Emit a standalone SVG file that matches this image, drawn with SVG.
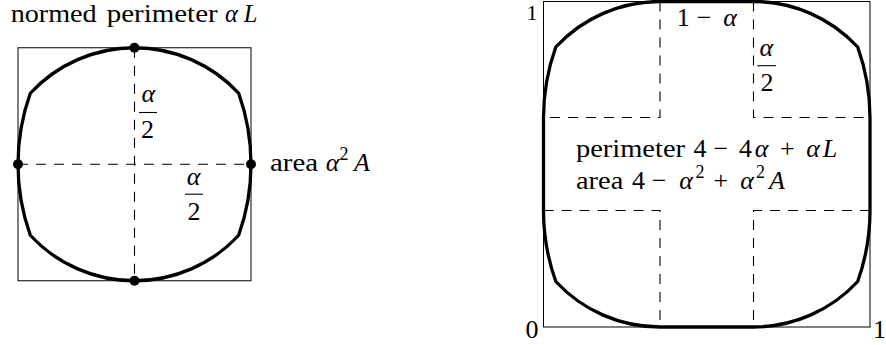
<svg xmlns="http://www.w3.org/2000/svg" width="886" height="345" viewBox="0 0 886 345">
<style>
.frame{fill:none;stroke:#000;stroke-width:1}
.curve{fill:none;stroke:#000;stroke-width:3.3;stroke-linejoin:miter}
.dash{fill:none;stroke:#000;stroke-width:1.1;stroke-dasharray:10 8}
.bar{stroke:#000;stroke-width:1.1}
.dot{fill:#000}
text{font-family:"Liberation Serif","Times New Roman",serif;font-size:26px;fill:#000}
.m{font-style:italic}
.c{text-anchor:middle}
.sup{font-size:18px}
.top{font-size:24.5px}
</style>
<rect width="886" height="345" fill="#fff"/>

<g id="left-figure">
  <rect id="left-square" class="frame" x="18" y="47.75" width="233" height="233"/>
  <g id="left-axes">
    <path class="dash" d="M134.5 47.75 V280.75"/>
    <path class="dash" d="M18 164.25 H251"/>
  </g>
  <path id="left-curve" class="curve" d="M134.5 47.75 A142 142 0 0 0 30.3 93.25 A211 211 0 0 0 18 164.25 A211 211 0 0 0 30.3 235.25 A142 142 0 0 0 134.5 280.75 A142 142 0 0 0 238.7 235.25 A211 211 0 0 0 251 164.25 A211 211 0 0 0 238.7 93.25 A142 142 0 0 0 134.5 47.75 Z"/>
  <g id="left-dots">
    <circle class="dot" cx="134.5" cy="47.75" r="5"/>
    <circle class="dot" cx="18" cy="164.25" r="5"/>
    <circle class="dot" cx="251" cy="164.25" r="5"/>
    <circle class="dot" cx="134.5" cy="280.75" r="5"/>
  </g>
  <g id="label-perimeter-left">
    <text class="top" x="10.7" y="22" textLength="86" lengthAdjust="spacingAndGlyphs">normed</text>
    <text class="top" x="106.7" y="22" textLength="111" lengthAdjust="spacingAndGlyphs">perimeter</text>
    <text class="top m c" x="231.5" y="22">α</text>
    <text class="top m c" x="250.5" y="22">L</text>
  </g>
  <g id="label-area-left">
    <text x="270" y="171" textLength="48" lengthAdjust="spacingAndGlyphs">area</text>
    <text class="m c" x="332.5" y="171">α</text>
    <text class="sup c" x="344" y="160">2</text>
    <text class="m c" x="362" y="171">A</text>
  </g>
  <g id="frac-left-1">
    <text class="m c" x="148.3" y="102">α</text>
    <line class="bar" x1="139" y1="112.5" x2="157" y2="112.5"/>
    <text class="c" x="147.5" y="138">2</text>
  </g>
  <g id="frac-left-2">
    <text class="m c" x="193.5" y="185">α</text>
    <line class="bar" x1="185" y1="194.2" x2="203" y2="194.2"/>
    <text class="c" x="194" y="219.5">2</text>
  </g>
</g>

<g id="right-figure">
  <rect id="right-square" class="frame" x="543.5" y="1.5" width="326.5" height="325.5"/>
  <g id="right-dashes">
    <path class="dash" d="M660 1.5 V117.5 H543.5"/>
    <path class="dash" d="M753.5 1.5 V117.5 H870"/>
    <path class="dash" d="M543.5 210.5 H660 V327"/>
    <path class="dash" d="M870 210.5 H753.5 V327"/>
  </g>
  <path id="right-curve" class="curve" d="M660 1.5 A142 142 0 0 0 555.8 47 A211 211 0 0 0 543.5 117.5 L543.5 210.5 A211 211 0 0 0 555.8 281.5 A142 142 0 0 0 660 327 L753.5 327 A142 142 0 0 0 857.7 281.5 A211 211 0 0 0 870 210.5 L870 117.5 A211 211 0 0 0 857.7 47 A142 142 0 0 0 753.5 1.5 Z"/>
  <g id="label-one-minus-alpha">
    <text class="c" x="683.3" y="26">1</text>
    <text class="c" x="704" y="26">−</text>
    <text class="m c" x="730" y="26">α</text>
  </g>
  <g id="frac-right">
    <text class="m c" x="766.3" y="56">α</text>
    <line class="bar" x1="757.3" y1="65.7" x2="776" y2="65.7"/>
    <text class="c" x="767" y="90.7">2</text>
  </g>
  <g id="label-perimeter-right">
    <text x="576" y="157.3" textLength="109" lengthAdjust="spacingAndGlyphs">perimeter</text>
    <text class="c" x="700" y="157.3">4</text>
    <text class="c" x="720.8" y="157.3">−</text>
    <text class="c" x="745.5" y="157.3">4</text>
    <text class="m c" x="761.5" y="157.3">α</text>
    <text class="c" x="787.3" y="157.3">+</text>
    <text class="m c" x="813" y="157.3">α</text>
    <text class="m c" x="830" y="157.3">L</text>
  </g>
  <g id="label-area-right">
    <text x="576" y="189" textLength="47.3" lengthAdjust="spacingAndGlyphs">area</text>
    <text class="c" x="638.5" y="189">4</text>
    <text class="c" x="659.2" y="189">−</text>
    <text class="m c" x="686" y="189">α</text>
    <text class="sup c" x="700" y="178">2</text>
    <text class="c" x="720.8" y="189">+</text>
    <text class="m c" x="747" y="189">α</text>
    <text class="sup c" x="760.5" y="178">2</text>
    <text class="m c" x="777" y="189">A</text>
  </g>
  <g id="axis-labels">
    <text class="c" x="532" y="20" style="font-size:22px">1</text>
    <text class="c" x="532" y="338">0</text>
    <text class="c" x="879.5" y="338">1</text>
  </g>
</g>
</svg>
